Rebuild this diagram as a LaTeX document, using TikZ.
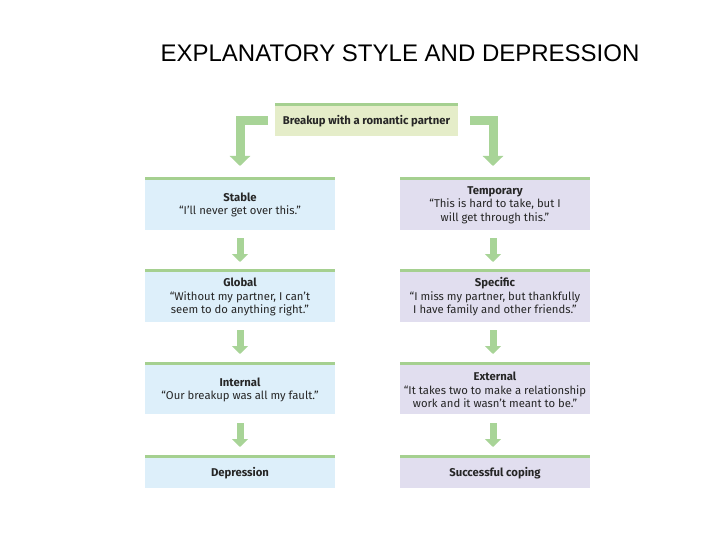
\documentclass[tikz,border=0pt]{standalone}
\usepackage{fontspec}
\setmainfont{Fira Sans}
\newfontfamily\titlefont{Liberation Sans}
\definecolor{gbar}{HTML}{A5D090}
\definecolor{garrow}{HTML}{A8D497}
\definecolor{topfill}{HTML}{E5EDC9}
\definecolor{bluefill}{HTML}{DDEFFA}
\definecolor{purpfill}{HTML}{E1DEEF}
\usetikzlibrary{arrows.meta}
\tikzset{
  box/.style={draw=none,align=center,font=\fontsize{11.3}{13.5}\selectfont,text=black!85},
  fat/.style={draw=garrow,line width=9pt,-{Triangle[length=10pt,width=20pt]}},
}
\begin{document}
\begin{tikzpicture}[x=1pt,y=-1pt]
\useasboundingbox (0,0) rectangle (720,540);
\node[font=\titlefont\fontsize{24}{28}\selectfont] (title) at (400,53) {EXPLANATORY STYLE AND DEPRESSION};
\fill[topfill] (275,103) rectangle (458,136);
\fill[gbar] (275,103) rectangle (458,106);
\node[box] (top) at (366.5,121) {\textbf{Breakup with a romantic partner}};
\foreach \x/\c in {145/bluefill,400/purpfill}{
  \foreach \ya/\yb in {177/230,269/322,362/414,455/488}{
    \fill[\c] (\x,\ya) rectangle (\x+190,\yb);
    \fill[gbar] (\x,\ya) rectangle (\x+190,\ya+3);
  }}
\node[box] (l1) at (240,205) {\textbf{Stable}\\“I’ll never get over this.”};
\node[box] (l2) at (240,297) {\textbf{Global}\\“Without my partner, I can’t\\seem to do anything right.”};
\node[box] (l3) at (240,390) {\textbf{Internal}\\“Our breakup was all my fault.”};
\node[box] (l4) at (240,473) {\textbf{Depression}};
\node[box] (r1) at (495,205) {\textbf{Temporary}\\“This is hard to take, but I\\will get through this.”};
\node[box] (r2) at (495,297) {\textbf{Specific}\\“I miss my partner, but thankfully\\I have family and other friends.”};
\node[box] (r3) at (495,390) {\textbf{External}\\“It takes two to make a relationship\\work and it wasn’t meant to be.”};
\node[box] (r4) at (495,473) {\textbf{Successful coping}};
\coordinate (tl) at (268,121);
\coordinate (tr) at (470,121);
\draw[fat] (tl) -| (240,166);
\draw[fat] (tr) -| (493,166);
\foreach \x in {240,493}{
  \foreach \y in {238,330,423}{
    \draw[fat,line width=7pt,-{Triangle[length=8pt,width=16pt]}] (\x,\y) -- (\x,\y+24);
  }}
\end{tikzpicture}
\end{document}
